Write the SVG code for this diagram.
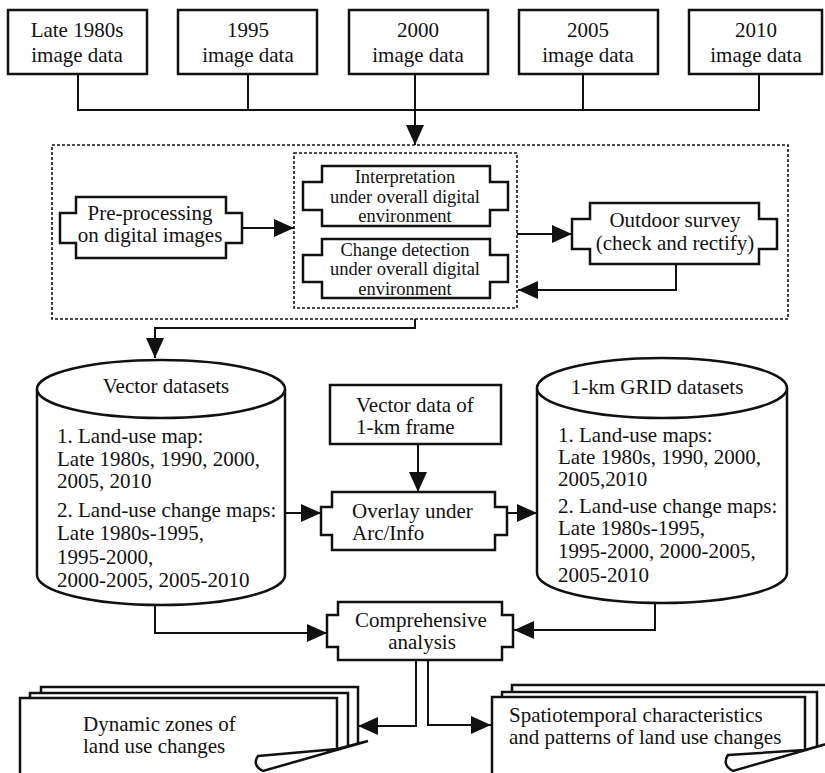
<svg xmlns="http://www.w3.org/2000/svg" width="825" height="773" viewBox="0 0 825 773">
<defs>
<style>
text{font-family:"Liberation Serif","Times New Roman",serif;font-size:21px;fill:#111}
.c{text-anchor:middle}
.s{font-size:18.5px}
.box{fill:#fff;stroke:#111;stroke-width:2.5}
.dash{fill:none;stroke:#111;stroke-width:1.6;stroke-dasharray:3 2}
.ln{fill:none;stroke:#111;stroke-width:2}
.arr{fill:none;stroke:#111;stroke-width:2;marker-end:url(#ah)}
</style>
<marker id="ah" markerUnits="userSpaceOnUse" markerWidth="20" markerHeight="18" refX="20" refY="9" orient="auto">
<path d="M0,0 L20,9 L0,18 Z" fill="#111"/>
</marker>
</defs>
<rect width="825" height="773" fill="#fff"/>

<g id="connectors">
<path class="ln" d="M78,74 V110 H759 V74 M248,74 V110 M583,74 V110"/>
<path class="arr" d="M415,74 V145"/>
<path class="arr" d="M242,228 H294"/>
<path class="arr" d="M517,234 H572"/>
<path class="arr" d="M676,264 V290 H518"/>
<path class="arr" d="M415,319 V328 H155 V358"/>
<path class="arr" d="M418,444 V492"/>
<path class="arr" d="M285,513 H321"/>
<path class="arr" d="M507,513 H537"/>
<path class="arr" d="M155,605 V633 H327"/>
<path class="arr" d="M655,603 V630 H514"/>
<path class="arr" d="M416,660 V726 H358"/>
<path class="arr" d="M428,660 V725 H491"/>
</g>

<g id="n1980"><rect class="box" x="8" y="10" width="139" height="64"/><text class="c" x="77" y="37">Late 1980s</text><text class="c" x="77" y="62">image data</text></g>
<g id="n1995"><rect class="box" x="178" y="10" width="139" height="64"/><text class="c" x="248" y="37">1995</text><text class="c" x="248" y="62">image data</text></g>
<g id="n2000"><rect class="box" x="349" y="10" width="139" height="64"/><text class="c" x="418" y="37">2000</text><text class="c" x="418" y="62">image data</text></g>
<g id="n2005"><rect class="box" x="519" y="10" width="139" height="64"/><text class="c" x="588" y="37">2005</text><text class="c" x="588" y="62">image data</text></g>
<g id="n2010"><rect class="box" x="689" y="10" width="133" height="64"/><text class="c" x="756" y="37">2010</text><text class="c" x="756" y="62">image data</text></g>

<g id="outerDashed"><rect class="dash" x="52" y="145" width="736" height="174"/></g>
<g id="innerDashed"><rect class="dash" x="294" y="153" width="223" height="155"/></g>

<g id="preprocessing">
<path class="box" d="M76,197 H226 V213 H242 V243 H226 V258 H76 V243 H60 V213 H76 Z"/>
<text class="c" x="150" y="220">Pre-processing</text><text class="c" x="150" y="242">on digital images</text>
</g>
<g id="interpretation">
<path class="box" d="M322,166 H490 V182 H508 V210 H490 V226 H322 V210 H303 V182 H322 Z"/>
<text class="c s" x="405" y="183">Interpretation</text><text class="c s" x="405" y="202.5">under overall digital</text><text class="c s" x="405" y="222">environment</text>
</g>
<g id="changedetection">
<path class="box" d="M322,239 H490 V255 H508 V282 H490 V298 H322 V282 H303 V255 H322 Z"/>
<text class="c s" x="405" y="255.5">Change detection</text><text class="c s" x="405" y="275">under overall digital</text><text class="c s" x="405" y="294.5">environment</text>
</g>
<g id="outdoor">
<path class="box" d="M590,203 H759 V219 H777 V249 H759 V264 H590 V249 H572 V219 H590 Z"/>
<text class="c" x="675" y="227">Outdoor survey</text><text class="c" x="675" y="250">(check and rectify)</text>
</g>

<g id="vectorDatasets">
<path class="box" d="M37,389 V575 A124,30 0 0 0 285,575 V389"/>
<ellipse class="box" cx="161" cy="389" rx="124" ry="29"/>
<text class="c" x="166" y="393">Vector datasets</text>
<text x="57" y="443">1. Land-use map:</text>
<text x="57" y="466">Late 1980s, 1990, 2000,</text>
<text x="57" y="488">2005, 2010</text>
<text x="57" y="517">2. Land-use change maps:</text>
<text x="57" y="540">Late 1980s-1995,</text>
<text x="57" y="564">1995-2000,</text>
<text x="57" y="587">2000-2005, 2005-2010</text>
</g>

<g id="gridDatasets">
<path class="box" d="M537,388 V573 A125,30 0 0 0 787,573 V388"/>
<ellipse class="box" cx="662" cy="388" rx="125" ry="30"/>
<text class="c" x="657" y="394">1-km GRID datasets</text>
<text x="558" y="442">1. Land-use maps:</text>
<text x="558" y="464">Late 1980s, 1990, 2000,</text>
<text x="558" y="486">2005,2010</text>
<text x="558" y="513">2. Land-use change maps:</text>
<text x="558" y="535">Late 1980s-1995,</text>
<text x="558" y="558">1995-2000, 2000-2005,</text>
<text x="558" y="582">2005-2010</text>
</g>

<g id="vectorFrame">
<rect class="box" x="330" y="385" width="171" height="59"/>
<text x="356" y="412">Vector data of</text><text x="356" y="434">1-km frame</text>
</g>

<g id="overlay">
<path class="box" d="M332,492 H495 V507 H507 V535 H495 V550 H332 V535 H321 V507 H332 Z"/>
<text x="352" y="518">Overlay under</text><text x="352" y="540">Arc/Info</text>
</g>

<g id="comprehensive">
<path class="box" d="M338,602 H502 V615 H513 V647 H502 V660 H338 V647 H327 V615 H338 Z"/>
<text class="c" x="421" y="627">Comprehensive</text><text class="c" x="422" y="649">analysis</text>
</g>

<g id="dynamicZones">
<path class="box" d="M41,775 V687 H358 V744"/>
<path class="box" d="M30,775 V693 H348 V747"/>
<path class="box" d="M20,775 V698 H337 V750"/>
<path class="box" d="M258,756 L337,749 L368,741 L263,771 C255,767 254,761 258,756 Z"/>
<text x="83" y="731">Dynamic zones of</text><text x="83" y="753">land use changes</text>
</g>

<g id="spatiotemporal">
<path class="box" d="M512,775 V685 H830"/>
<path class="box" d="M502,775 V692 H817 V747"/>
<path class="box" d="M492,775 V697 H805 V750"/>
<path class="box" d="M728,755 L805,750 L830,743 L733,771 C725,767 724,761 728,755 Z"/>
<text x="509" y="722">Spatiotemporal characteristics</text><text x="509" y="744">and patterns of land use changes</text>
</g>
</svg>
